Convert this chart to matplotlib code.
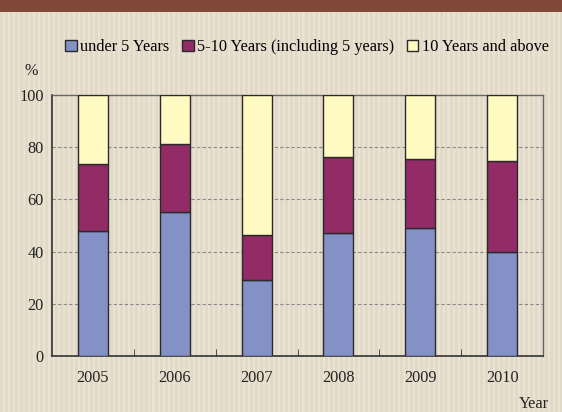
import matplotlib as mpl
mpl.use('Agg')
import matplotlib.pyplot as plt
from matplotlib.patches import Rectangle
import numpy as np

years = ['2005', '2006', '2007', '2008', '2009', '2010']
under5 = [48.0, 55.2, 29.0, 47.0, 48.9, 39.8]
mid5_10 = [25.4, 26.0, 17.2, 29.2, 26.7, 34.8]
over10 = [26.6, 18.8, 53.8, 23.8, 24.4, 25.4]
series_names = ['under 5 Years', '5-10 Years (including 5 years)', '10 Years and above']
colors = ['#8491c6', '#922b66', '#fffac2']

plt.rcParams['font.family'] = ['Liberation Serif', 'DejaVu Serif']

W, H = 562, 412
fig = plt.figure(figsize=(W / 100, H / 100), dpi=100)
fig.patch.set_facecolor('#e9e3d2')

# striped page background and brown header band
for x0 in range(0, W, 5):
    fig.patches.append(Rectangle((x0 / W, 0), 2.5 / W, 1, transform=fig.transFigure,
                                 facecolor='#e2d9c9', edgecolor='none', zorder=-10))
fig.patches.append(Rectangle((0, 1 - 12 / H), 1, 12 / H, transform=fig.transFigure,
                             facecolor='#82483a', edgecolor='none', zorder=-5))

ax = fig.add_axes([52 / W, 1 - 356 / H, (543 - 52) / W, (356 - 95) / H])
ax.set_facecolor('none')

x = np.arange(len(years))
w = 0.365
bottom = np.zeros(len(years))
for vals, c, name in zip([under5, mid5_10, over10], colors, series_names):
    ax.bar(x, vals, w, bottom=bottom, color=c, edgecolor='#2a2a2a', linewidth=1.0,
           label=name, zorder=3)
    bottom += np.array(vals)

ax.set_xlim(-0.5, len(years) - 0.5)
ax.set_ylim(0, 100)
ax.set_yticks([0, 20, 40, 60, 80, 100])
ax.tick_params(axis='y', length=0, labelsize=11.7, pad=6, colors='#222222')
ax.set_xticks(x)
ax.set_xticklabels(years)
ax.tick_params(axis='x', length=0, labelsize=11.7, pad=10, colors='#222222')
ax.set_xticks(np.arange(0.5, len(years) - 0.5, 1), minor=True)
ax.tick_params(axis='x', which='minor', direction='in', length=5, color='#333333')

for yv in [20, 40, 60, 80]:
    ax.axhline(yv, color='#8a8a8a', linestyle=(0, (3, 2)), linewidth=0.8, zorder=1)

for s in ['left', 'bottom']:
    ax.spines[s].set_color('#333333')
    ax.spines[s].set_linewidth(1.2)
for s in ['top', 'right']:
    ax.spines[s].set_color('#666666')
    ax.spines[s].set_linewidth(1.0)

fig.text(31 / W, 1 - 71 / H, '%', fontsize=11.7, ha='center', va='center', color='#222222')
fig.text(534 / W, 1 - 404 / H, 'Year', fontsize=11.7, ha='center', va='center', color='#222222')

fig.legend(loc='center', bbox_to_anchor=(307 / W, 1 - 47 / H), ncol=3, frameon=False,
           fontsize=11.7, handlelength=0.7, handleheight=0.7, handletextpad=0.2,
           columnspacing=0.8, borderaxespad=0)

fig.savefig('out.png', dpi=100, facecolor=fig.get_facecolor())
plt.close(fig)
